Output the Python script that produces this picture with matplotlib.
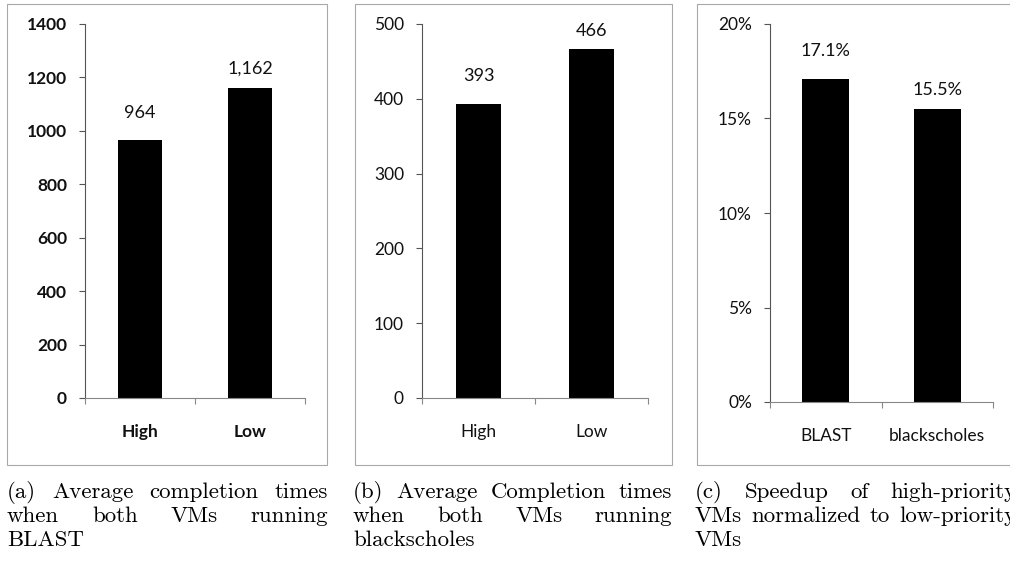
import numpy as np
import matplotlib.pyplot as plt
from matplotlib.patches import Rectangle
from matplotlib.ticker import FixedLocator, FuncFormatter

# completion times (a), (b) and speedup (c)
blast_groups = ['High', 'Low']
blast_times = [964, 1162]
bs_groups = ['High', 'Low']
bs_times = [393, 466]
apps = ['BLAST', 'blackscholes']
speedup = [17.1, 15.5]

captions = [
    ['(a) Average completion times', 'when both VMs running', 'BLAST'],
    ['(b) Average Completion times', 'when both VMs running', 'blackscholes'],
    ['(c) Speedup of high-priority', 'VMs normalized to low-priority', 'VMs'],
]

W, H = 1010, 562
fig = plt.figure(figsize=(W / 100, H / 100), dpi=100)
tick_font = 'Lato'
cap_font = 'cmr10'
cap_size = 16.5


def px_rect(x0, y0, x1, y1):
    # pixel box (top-left origin) -> figure fraction rect
    return [x0 / W, 1 - y1 / H, (x1 - x0) / W, (y1 - y0) / H]


def bar_panel(rect, cats, vals, ymax, ystep, fmt, lab_fmt, bold, width=0.4):
    ax = fig.add_axes(rect)
    x = np.arange(len(cats))
    bars = ax.bar(x, vals, width=width, color='black', zorder=2)
    ax.set_xlim(-0.5, len(cats) - 0.5)
    ax.set_ylim(0, ymax)
    ax.set_yticks(np.arange(0, ymax + ystep / 2, ystep))
    ax.yaxis.set_major_formatter(FuncFormatter(fmt))
    ax.set_xticks(x)
    ax.set_xticklabels(cats)
    ax.xaxis.set_minor_locator(FixedLocator(np.arange(-0.5, len(cats), 1.0)))
    for s in ['top', 'right']:
        ax.spines[s].set_visible(False)
    ax.spines['left'].set_color('#555555')
    ax.spines['bottom'].set_color('#888888')
    ax.spines['left'].set_linewidth(0.8)
    ax.spines['bottom'].set_linewidth(0.8)
    ax.tick_params(axis='y', length=4, width=0.8, color='#555555', pad=9)
    ax.tick_params(axis='x', which='major', length=0, pad=19)
    ax.tick_params(axis='x', which='minor', length=4, width=0.8, color='#888888')
    weight = 'bold' if bold else 'normal'
    for lab in ax.get_yticklabels() + ax.get_xticklabels():
        lab.set_fontfamily(tick_font)
        lab.set_fontsize(12.5)
        lab.set_fontweight(weight)
        lab.set_color('#111111')
    # value labels sit above each bar
    for b, v, off in zip(bars, vals, [20, 13.5]):
        ax.annotate(lab_fmt(v), (b.get_x() + b.get_width() / 2, v),
                    xytext=(0, off), textcoords='offset points',
                    ha='center', va='center', fontsize=13,
                    fontfamily=tick_font, color='#111111')
    return ax


bar_panel(px_rect(85, 24, 305, 398), blast_groups, blast_times, 1400, 200,
          lambda v, p: f'{v:.0f}', lambda v: f'{v:,.0f}', True)
bar_panel(px_rect(422, 24, 648, 398), bs_groups, bs_times, 500, 100,
          lambda v, p: f'{v:.0f}', lambda v: f'{v:,.0f}', False)
bar_panel(px_rect(770, 24, 993, 402), apps, speedup, 20, 5,
          lambda v, p: f'{v:.0f}%', lambda v: f'{v:.1f}%', False, width=0.42)

# light frames around each panel
for x0, x1 in [(7, 327), (355, 672), (697, 1030)]:
    fig.patches.append(Rectangle((x0 / W, 1 - 465 / H), (x1 - x0) / W,
                                 (465 - 4) / H, transform=fig.transFigure,
                                 fill=False, ec='#a8a8a8', lw=0.8))

# justified captions under the panels
fig.canvas.draw()
renderer = fig.canvas.get_renderer()
space_px = 0.333 * cap_size * 100 / 72
cap_boxes = [(7, 328), (353, 672), (695, 1016)]
line_y = [492, 516, 540]
for (left, right), lines in zip(cap_boxes, captions):
    for i, line in enumerate(lines):
        y = 1 - line_y[i] / H
        words = line.split()
        texts = [fig.text(0, y, w, fontfamily=cap_font, fontsize=cap_size,
                          va='center', ha='left', color='black') for w in words]
        widths = [t.get_window_extent(renderer).width for t in texts]
        if i == len(lines) - 1 or len(words) == 1:
            gap = space_px
        else:
            gap = max((right - left - sum(widths)) / (len(words) - 1),
                      0.8 * space_px)
        xpos = left
        for t, wd in zip(texts, widths):
            t.set_x(xpos / W)
            xpos += wd + gap

fig.savefig('out.png', dpi=100)
